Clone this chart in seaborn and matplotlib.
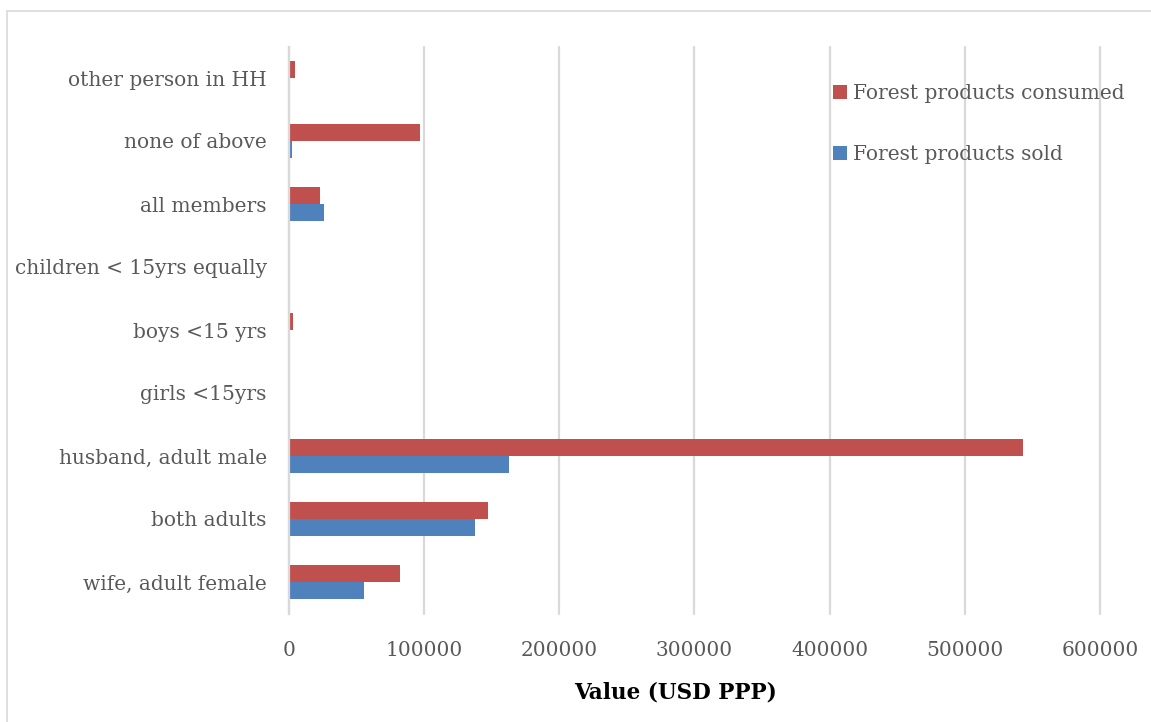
import matplotlib
matplotlib.use("Agg")
import matplotlib.pyplot as plt
import seaborn as sns
import pandas as pd
from matplotlib.lines import Line2D

categories = [
    "other person in HH",
    "none of above",
    "all members",
    "children < 15yrs equally",
    "boys <15 yrs",
    "girls <15yrs",
    "husband, adult male",
    "both adults",
    "wife, adult female",
]
consumed = [4200, 97000, 23000, 300, 3000, 400, 543000, 147500, 81800]
sold = [0, 2200, 26000, 100, 400, 200, 162800, 137300, 55500]
series_names = ["Forest products consumed", "Forest products sold"]
x_ticks = [0, 100000, 200000, 300000, 400000, 500000, 600000]

df = pd.DataFrame({
    "category": categories * 2,
    "value": consumed + sold,
    "series": [series_names[0]] * len(categories) + [series_names[1]] * len(categories),
})

sns.set_theme(style="white")
plt.rcParams["font.family"] = ["DejaVu Serif"]

W, H = 1151, 722
fig = plt.figure(figsize=(W / 100, H / 100), dpi=100)
ax = fig.add_axes([289 / W, 1 - 613.5 / H, (1100 - 289) / W, (613.5 - 46.5) / H])

palette = {series_names[0]: "#C0504D", series_names[1]: "#4F81BD"}
sns.barplot(data=df, x="value", y="category", hue="series", order=categories,
            hue_order=series_names, palette=palette, orient="h", width=0.53,
            saturation=1, linewidth=0, ax=ax, legend=False)

ax.set_xlim(0, 600000)
ax.set_xticks(x_ticks)
ax.set_xticklabels([str(t) for t in x_ticks])
ax.grid(axis="x", color="#D9D9D9", linewidth=1.6)
ax.grid(axis="y", visible=False)
for gl in ax.get_xgridlines():
    gl.set_clip_on(False)
ax.set_axisbelow(True)
for side in ["top", "right", "bottom"]:
    ax.spines[side].set_visible(False)
ax.spines["left"].set_color("#D9D9D9")
ax.spines["left"].set_linewidth(1.6)
ax.tick_params(axis="both", length=0, labelsize=14.5, labelcolor="#595959")
ax.tick_params(axis="y", pad=16)
ax.tick_params(axis="x", pad=20)
ax.set_xlabel("")
ax.set_ylabel("")

fig.text(676 / W, 1 - 693 / H, "Value (USD PPP)", ha="center", va="center",
         fontsize=15.5, fontweight="bold", color="#000000")

handles = [Line2D([0], [0], marker="s", linestyle="none", markersize=10,
                  markerfacecolor=palette[n], markeredgewidth=0) for n in series_names]
fig.legend(handles, series_names, loc="upper left",
           bbox_to_anchor=(812 / W, 1 - 66 / H), frameon=False, fontsize=14.5,
           labelcolor="#595959", handletextpad=0.15, labelspacing=2.1,
           handlelength=1.0)

# light frame along the top and left edges
fig.add_artist(Line2D([7 / W, 7 / W], [0, 1 - 11 / H], transform=fig.transFigure,
                      color="#D9D9D9", linewidth=1.2))
fig.add_artist(Line2D([7 / W, 1], [1 - 11 / H, 1 - 11 / H], transform=fig.transFigure,
                      color="#D9D9D9", linewidth=1.2))

fig.savefig("out.png", dpi=100, facecolor="white")
